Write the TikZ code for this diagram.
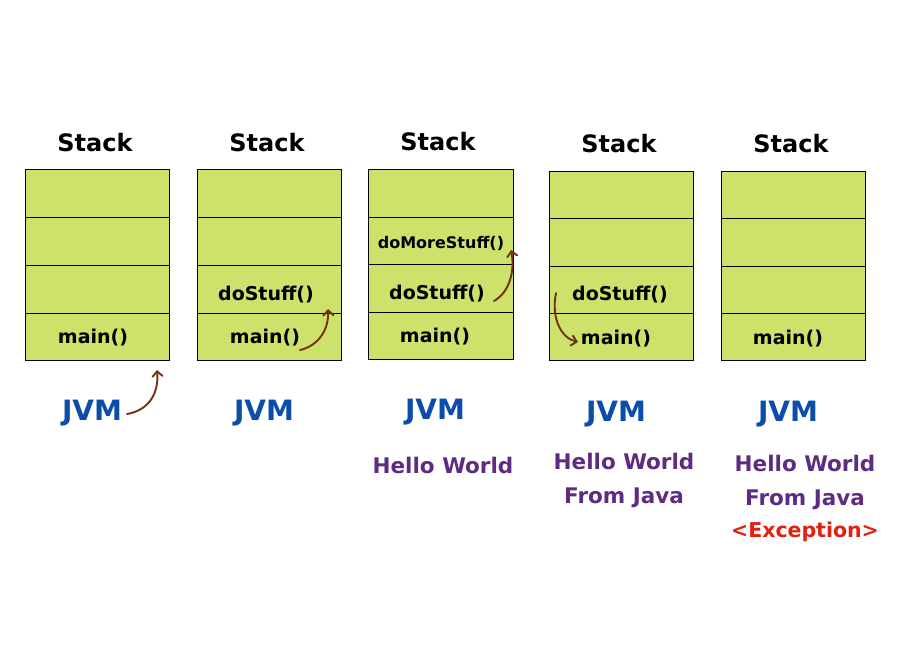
\documentclass[tikz,border=0pt]{standalone}
\usepackage{fontspec}
\setmainfont{DejaVu Sans}
\usetikzlibrary{arrows.meta}
\definecolor{cellgreen}{HTML}{CCE26A}
\definecolor{jvmblue}{HTML}{0B4DA8}
\definecolor{hwpurple}{HTML}{5E2B83}
\definecolor{excred}{HTML}{E3200F}
\definecolor{arrbrown}{HTML}{733012}
\tikzset{
  cell/.style={draw=black, line width=1pt, fill=cellgreen, minimum width=144pt, minimum height=48pt, inner sep=0pt, anchor=north west},
  stacklbl/.style={font=\bfseries\fontsize{24}{28}\selectfont, text=black},
  fn/.style={font=\bfseries\fontsize{19}{22}\selectfont, text=black},
  fnsmall/.style={font=\bfseries\fontsize{16}{19}\selectfont, text=black},
  jvm/.style={font=\bfseries\fontsize{28}{32}\selectfont, text=jvmblue},
  hw/.style={font=\bfseries\fontsize{21.5}{34}\selectfont, text=hwpurple, align=center},
  exc/.style={font=\bfseries\fontsize{20.5}{34}\selectfont, text=excred},
  callarrow/.style={draw=arrbrown, line width=1.9pt, line cap=round, -{Straight Barb[length=5pt,width=10pt,line cap=round]}}
}
\begin{document}
\begin{tikzpicture}[x=1pt,y=-1pt]
\useasboundingbox (0,0) rectangle (900,650);
% Stack 1
\node[stacklbl] (s1) at (95,143) {Stack};
\node[cell] (a1) at (25,169) {};
\node[cell] (a2) at (25,217) {};
\node[cell] (a3) at (25,265) {};
\node[cell,minimum height=47pt] (a4) at (25,313) {};
\node[fn] (a4t) at (93,338) {main()};
\node[jvm] (j1) at (92,413) {JVM};
% Stack 2
\node[stacklbl] (s2) at (267,143) {Stack};
\node[cell] (b1) at (197,169) {};
\node[cell] (b2) at (197,217) {};
\node[cell] (b3) at (197,265) {};
\node[cell,minimum height=47pt] (b4) at (197,313) {};
\node[fn] (b3t) at (266,295) {doStuff()};
\node[fn] (b4t) at (265,338) {main()};
\node[jvm] (j2) at (264,413) {JVM};
% Stack 3
\node[stacklbl] (s3) at (438,142) {Stack};
\node[cell,minimum width=145pt] (c1) at (368,169) {};
\node[cell,minimum width=145pt,minimum height=47pt] (c2) at (368,217) {};
\node[cell,minimum width=145pt] (c3) at (368,264) {};
\node[cell,minimum width=145pt,minimum height=47pt] (c4) at (368,312) {};
\node[fnsmall] (c2t) at (441,243) {doMoreStuff()};
\node[fn] (c3t) at (437,294) {doStuff()};
\node[fn] (c4t) at (435,337) {main()};
\node[jvm] (j3) at (435,412) {JVM};
\node[hw] (h3) at (443,465) {Hello World};
% Stack 4
\node[stacklbl] (s4) at (619,144) {Stack};
\node[cell] (d1) at (549,171) {};
\node[cell] (d2) at (549,218) {};
\node[cell] (d3) at (549,266) {};
\node[cell,minimum height=47pt] (d4) at (549,313) {};
\node[fn] (d3t) at (620,295) {doStuff()};
\node[fn] (d4t) at (616,339) {main()};
\node[jvm] (j4) at (616,414) {JVM};
\node[hw] (h4) at (624,480) {Hello World\\From Java};
% Stack 5
\node[stacklbl] (s5) at (791,144) {Stack};
\node[cell] (e1) at (721,171) {};
\node[cell] (e2) at (721,218) {};
\node[cell] (e3) at (721,266) {};
\node[cell,minimum height=47pt] (e4) at (721,313) {};
\node[fn] (e4t) at (788,339) {main()};
\node[jvm] (j5) at (788,414) {JVM};
\node[hw] (h5) at (805,482) {Hello World\\From Java};
\node[exc] (x5) at (805,532) {<Exception>};
% arrows
\coordinate (p1s) at (127,414);
\coordinate (p1e) at (157,370);
\draw[callarrow] (p1s) .. controls (150,410) and (159,392) .. (p1e);
\coordinate (p2s) at (300,350);
\coordinate (p2e) at (328,309);
\draw[callarrow] (p2s) .. controls (318,346) and (329,330) .. (p2e);
\coordinate (p3s) at (494,301);
\coordinate (p3e) at (511,250);
\draw[callarrow] (p3s) .. controls (510,292) and (515,270) .. (p3e);
\coordinate (p4s) at (556,293);
\coordinate (p4e) at (578,342);
\draw[callarrow] (p4s) .. controls (551,318) and (561,338) .. (p4e);
\end{tikzpicture}
\end{document}
